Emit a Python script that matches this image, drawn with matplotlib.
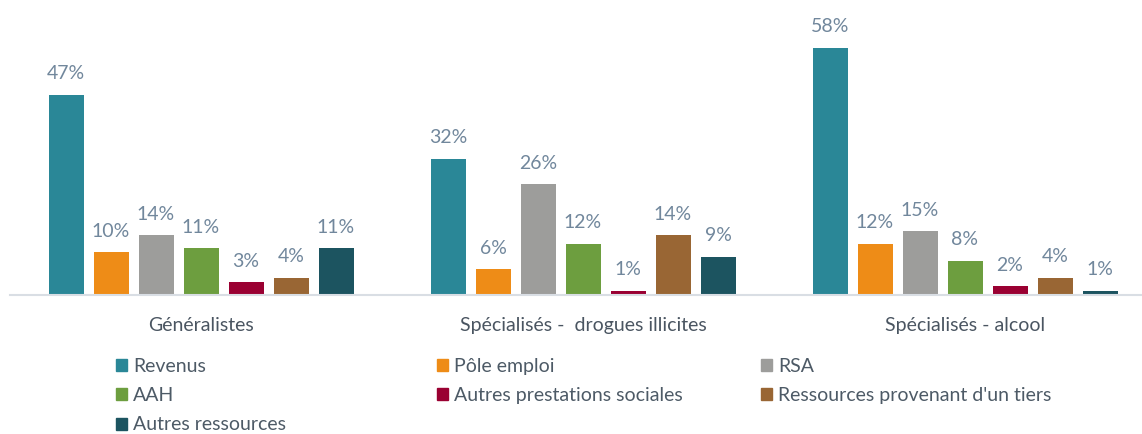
import matplotlib.pyplot as plt
from matplotlib.patches import Patch
import numpy as np

# data
groups = ['Généralistes', 'Spécialisés -  drogues illicites', 'Spécialisés - alcool']
series = ['Revenus', 'Pôle emploi', 'RSA', 'AAH', 'Autres prestations sociales',
          "Ressources provenant d'un tiers", 'Autres ressources']
revenus = [47, 32, 58]
pole_emploi = [10, 6, 12]
rsa = [14, 26, 15]
aah = [11, 12, 8]
autres_prestations = [3, 1, 2]
ressources_tiers = [4, 14, 4]
autres_ressources = [11, 9, 1]
values = [revenus, pole_emploi, rsa, aah, autres_prestations, ressources_tiers, autres_ressources]
colors = ['#2A8797', '#EE8C17', '#9D9D9B', '#6D9E3F', '#9A0032', '#996634', '#1C5460']

plt.rcParams['font.family'] = ['Lato', 'DejaVu Sans']

W, H = 1142, 434
fig = plt.figure(figsize=(W / 100, H / 100), dpi=100)

# axes: left at 10px, baseline at y=295px, group pitch 382px
pitch = 382
left_px, base_px = 10, 295
ax = fig.add_axes([left_px / W, (H - base_px) / H, (W - left_px) / W, base_px / H])
ax.set_xlim(-0.5, 2.5 - (left_px + 3 * pitch - W) / pitch)
ax.set_ylim(0, base_px / 4.26)

x = np.arange(len(groups))
step = 45 / pitch
width = 35 / pitch
for i, (name, vals, c) in enumerate(zip(series, values, colors)):
    bars = ax.bar(x + (i - 3) * step, vals, width, color=c, label=name)
    ax.bar_label(bars, labels=[f'{v}%' for v in vals], padding=9,
                 fontsize=14, color='#71879C')

for s in ['top', 'right', 'left']:
    ax.spines[s].set_visible(False)
ax.spines['bottom'].set_color('#D9DEE4')
ax.spines['bottom'].set_linewidth(1.5)
ax.set_yticks([])
ax.set_xticks(x)
ax.set_xticklabels(groups, fontsize=14, color='#4A5561')
ax.tick_params(axis='x', length=0, pad=15.5)

# legend, three columns of equal pitch
cols = [[0, 3, 6], [1, 4], [2, 5]]
col_x = [116, 437, 761]
for cx, idx in zip(col_x, cols):
    handles = [Patch(color=colors[j], label=series[j]) for j in idx]
    fig.legend(handles=handles, loc='upper left', bbox_to_anchor=(cx / W, 1 - 358 / H),
               frameon=False, fontsize=14, labelcolor='#4D5A66',
               handlelength=0.57, handleheight=0.57, handletextpad=0.3,
               labelspacing=0.63, borderpad=0, borderaxespad=0)

fig.savefig('out.png', dpi=100)
